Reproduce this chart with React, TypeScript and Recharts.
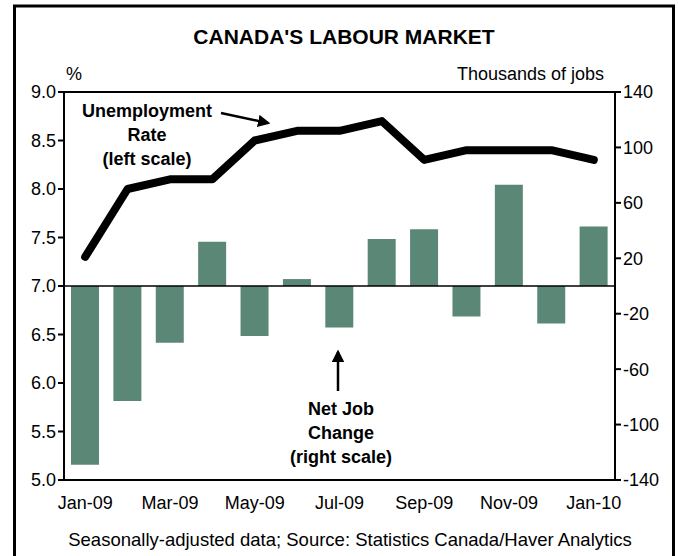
import React from "react";
import {
  Bar,
  ComposedChart,
  Line,
  ReferenceLine,
  XAxis,
  YAxis
} from "recharts";

const months = [
  "Jan-09", "Feb-09", "Mar-09", "Apr-09", "May-09", "Jun-09", "Jul-09",
  "Aug-09", "Sep-09", "Oct-09", "Nov-09", "Dec-09", "Jan-10"
];
// unemployment rate, % (left scale)
const unemploymentRate = [7.3, 8.0, 8.1, 8.1, 8.5, 8.6, 8.6, 8.7, 8.3, 8.4, 8.4, 8.4, 8.3];
// net job change, thousands (right scale)
const netJobChange = [-129, -83, -41, 32, -36, 5, -30, 34, 41, -22, 73, -27, 43];

const leftTicks = [5, 5.5, 6, 6.5, 7, 7.5, 8, 8.5, 9];
const rightTicks = [-140, -100, -60, -20, 20, 60, 100, 140];

const data = months.map((month, i) => ({
  month,
  rate: unemploymentRate[i],
  jobs: netJobChange[i]
}));

const font = "'Liberation Sans', Arial, sans-serif";
const tickStyle = { fill: "#000", fontSize: 18, fontFamily: font };

export default function App() {
  return (
    <div style={{ position: "absolute", left: 0, top: 0, width: 678, height: 556, background: "#fff", overflow: "hidden" }}>
      <ComposedChart
        width={678}
        height={556}
        data={data}
        margin={{ top: 92, right: 0, bottom: 36, left: 10 }}
      >
        <XAxis
          dataKey="month"
          interval={1}
          tickLine={false}
          axisLine={{ stroke: "#000", strokeWidth: 2 }}
          tick={tickStyle}
          tickMargin={10}
          height={40}
        />
        <YAxis
          yAxisId="left"
          domain={[5, 9]}
          ticks={leftTicks}
          tickFormatter={(v: number) => v.toFixed(1)}
          width={54}
          tick={tickStyle}
          tickSize={6}
          tickLine={{ stroke: "#000", strokeWidth: 2 }}
          axisLine={{ stroke: "#000", strokeWidth: 2 }}
          interval={0}
        />
        <YAxis
          yAxisId="right"
          orientation="right"
          domain={[-140, 140]}
          ticks={rightTicks}
          width={63}
          tick={tickStyle}
          tickSize={6}
          tickLine={{ stroke: "#000", strokeWidth: 2 }}
          axisLine={{ stroke: "#000", strokeWidth: 2 }}
          interval={0}
        />
        <Bar yAxisId="right" dataKey="jobs" fill="#5b8777" barSize={28} isAnimationActive={false} />
        <ReferenceLine yAxisId="left" y={9} stroke="#000" strokeWidth={2} />
        <ReferenceLine yAxisId="right" y={0} stroke="#000" strokeWidth={1.5} />
        <Line
          yAxisId="left"
          dataKey="rate"
          type="linear"
          stroke="#000"
          strokeWidth={8}
          strokeLinecap="round"
          strokeLinejoin="round"
          dot={false}
          activeDot={false}
          isAnimationActive={false}
        />
      </ComposedChart>

      <svg
        width={678}
        height={556}
        style={{ position: "absolute", left: 0, top: 0, pointerEvents: "none" }}
        fontFamily={font}
      >
        <defs>
          <marker id="head" markerWidth="5" markerHeight="5" refX="4" refY="2.5" orient="auto" markerUnits="strokeWidth">
            <path d="M0,0 L5,2.5 L0,5 z" fill="#000" />
          </marker>
        </defs>
        <rect x={14.5} y={6} width={659} height={560} fill="none" stroke="#000" strokeWidth={3} />
        <text x={344} y={44} textAnchor="middle" fontSize={21} fontWeight="bold">CANADA'S LABOUR MARKET</text>
        <text x={66} y={80} fontSize={18}>%</text>
        <text x={604} y={80} fontSize={18} textAnchor="end">Thousands of jobs</text>

        <g fontSize={18} fontWeight="bold" textAnchor="middle">
          <text x={147} y={117}>Unemployment</text>
          <text x={147} y={141}>Rate</text>
          <text x={147} y={165}>(left scale)</text>
          <text x={341} y={415}>Net Job</text>
          <text x={341} y={439}>Change</text>
          <text x={341} y={463}>(right scale)</text>
        </g>
        <line x1={221} y1={113} x2={268} y2={123} stroke="#000" strokeWidth={2.5} markerEnd="url(#head)" />
        <line x1={338} y1={391} x2={338} y2={352} stroke="#000" strokeWidth={2.5} markerEnd="url(#head)" />

        <text x={350} y={546} textAnchor="middle" fontSize={18.5}>
          Seasonally-adjusted data; Source: Statistics Canada/Haver Analytics
        </text>
      </svg>
    </div>
  );
}
